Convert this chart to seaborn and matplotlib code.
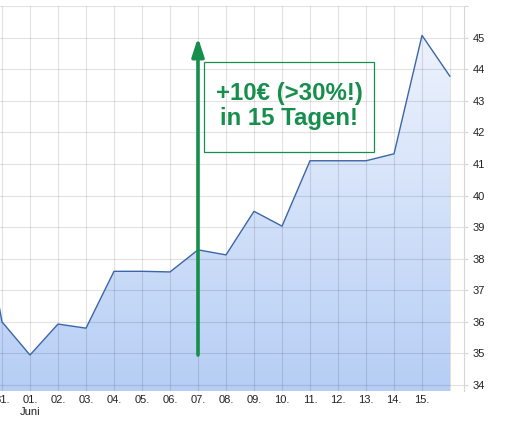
import numpy as np
import pandas as pd
import seaborn as sns
import matplotlib.pyplot as plt
from matplotlib.colors import LinearSegmentedColormap
from matplotlib.patches import Rectangle, FancyArrowPatch

# day index 0 = 31. Mai, 1..15 = 01.-15. Juni, 16 = today
day_pos = [-1, 0, 1, 2, 3, 4, 5, 6, 7, 8, 9, 10, 11, 12, 13, 14, 15, 16]
price = [40.9, 36.0, 34.95, 35.93, 35.8, 37.6, 37.6, 37.58, 38.28, 38.12,
         39.5, 39.03, 41.1, 41.1, 41.1, 41.32, 45.07, 43.77]
tick_labels = ["31.", "01.\nJuni", "02.", "03.", "04.", "05.", "06.", "07.",
               "08.", "09.", "10.", "11.", "12.", "13.", "14.", "15.", ""]
y_ticks = list(range(34, 46))

df = pd.DataFrame({"day": day_pos, "price": price})

sns.set_style("white")
plt.rcParams['font.family'] = ['Liberation Sans', 'DejaVu Sans']

fig = plt.figure(figsize=(5.15, 4.32), dpi=100)
ax = fig.add_axes([0, 0.0949, 0.9010, 0.8912])

x0, x1 = -0.071, 16.5
y0, y1 = 33.81, 46.0

# gradient fill under the line
cmap = LinearSegmentedColormap.from_list("fill", ["#b6cef5", "#f2f6fe"])
grad = np.linspace(0, 1, 256).reshape(-1, 1)
img = ax.imshow(grad, cmap=cmap, aspect="auto", origin="lower",
                extent=[x0, x1, y0, y1], zorder=1)
poly = ax.fill_between(df["day"], df["price"], y0, color="none", zorder=1)
img.set_clip_path(poly.get_paths()[0], transform=ax.transData)

sns.lineplot(data=df, x="day", y="price", ax=ax, color="#3b66a8",
             linewidth=1.0, zorder=3)

ax.set_xlim(x0, x1)
ax.set_ylim(y0, y1)

ax.set_xticks(range(0, 17))
ax.set_xticklabels(tick_labels, fontsize=8)
ax.set_yticks(y_ticks + [46])
ax.set_yticklabels([str(v) for v in y_ticks] + [""], fontsize=8)
ax.yaxis.tick_right()
ax.tick_params(axis="x", length=0, pad=3, colors="#222222")
ax.tick_params(axis="y", length=3, pad=3, color="#d6d6d6", colors="#222222")
ax.set_xlabel("")
ax.set_ylabel("")

ax.grid(True, color="black", alpha=0.11, linewidth=0.8, zorder=2)
ax.set_axisbelow(False)
for s in ["left", "top", "bottom"]:
    ax.spines[s].set_visible(False)
ax.spines["right"].set_color("#d6d6d6")
ax.spines["right"].set_linewidth(0.8)

green = "#168e4c"
arrow = FancyArrowPatch((7, 34.95), (7, 45.0),
                        arrowstyle="-|>,head_length=11,head_width=3.6",
                        mutation_scale=1, linewidth=2.6, color=green,
                        shrinkA=0, shrinkB=0, zorder=5)
ax.add_patch(arrow)

ax.add_patch(Rectangle((7.214, 41.373), 6.07, 2.85, fill=False,
                       edgecolor=green, linewidth=0.9, zorder=5))
ax.text(10.25, 42.84, "+10€ (>30%!)\nin 15 Tagen!", ha="center", va="center",
        fontsize=17.3, fontweight="bold", color=green, linespacing=1.08,
        zorder=6)

plt.savefig("out.png", dpi=100)
